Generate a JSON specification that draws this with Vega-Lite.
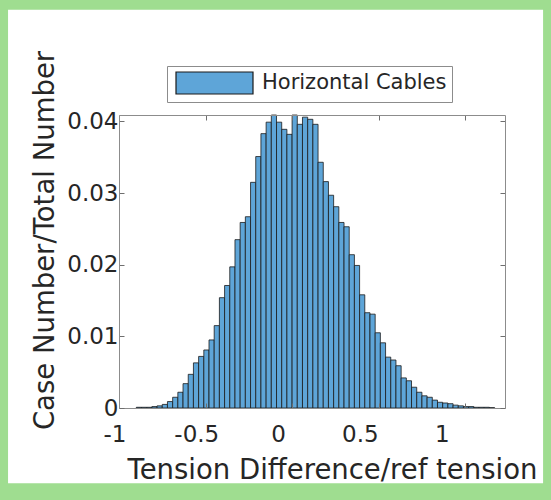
{
  "$schema": "https://vega.github.io/schema/vega-lite/v6.json",
  "width": 386,
  "height": 293,
  "autosize": {"type": "none"},
  "padding": {"left": 119, "top": 115, "right": 46, "bottom": 92},
  "background": "#9fdd90",
  "config": {
    "view": {"stroke": null},
    "font": "DejaVu Sans",
    "axis": {
      "grid": false,
      "domainColor": "#8c8c8c",
      "domainWidth": 1,
      "tickColor": "#6e6e6e",
      "tickSize": -5,
      "labelFlush": false,
      "labelFont": "DejaVu Sans",
      "labelFontSize": 23,
      "labelColor": "#262626",
      "titleFont": "DejaVu Sans",
      "titleFontSize": 27.5,
      "titleFontWeight": "normal",
      "titleColor": "#262626"
    }
  },
  "resolve": {"axis": {"x": "independent", "y": "independent"}},
  "layer": [
    {
      "data": {"values": [{"panel": "background"}]},
      "mark": {"type": "rect", "fill": "white", "clip": false},
      "encoding": {
        "x": {"datum": -1.641, "type": "quantitative", "scale": {"domain": [-1, 1.23], "nice": false, "zero": false},
              "axis": {"orient": "top", "labels": false, "title": null, "zindex": 2, "values": [-1, -0.5, 0, 0.5, 1]}},
        "x2": {"datum": 1.45},
        "y": {"datum": 0.0556, "type": "quantitative", "scale": {"domain": [0, 0.0409], "nice": false, "zero": false},
              "axis": {"orient": "right", "labels": false, "title": null, "zindex": 2, "values": [0, 0.01, 0.02, 0.03, 0.04]}},
        "y2": {"datum": -0.0105}
      }
    },
    {
      "data": {"values": [
        {"x0": -0.90, "x1": -0.87, "p": 0.0001, "series": "Horizontal Cables"},
        {"x0": -0.87, "x1": -0.84, "p": 0.0001, "series": "Horizontal Cables"},
        {"x0": -0.84, "x1": -0.81, "p": 0.0001, "series": "Horizontal Cables"},
        {"x0": -0.81, "x1": -0.78, "p": 0.0002, "series": "Horizontal Cables"},
        {"x0": -0.78, "x1": -0.75, "p": 0.0003, "series": "Horizontal Cables"},
        {"x0": -0.75, "x1": -0.72, "p": 0.0005, "series": "Horizontal Cables"},
        {"x0": -0.72, "x1": -0.69, "p": 0.0009, "series": "Horizontal Cables"},
        {"x0": -0.69, "x1": -0.66, "p": 0.0015, "series": "Horizontal Cables"},
        {"x0": -0.66, "x1": -0.63, "p": 0.0022, "series": "Horizontal Cables"},
        {"x0": -0.63, "x1": -0.60, "p": 0.0034, "series": "Horizontal Cables"},
        {"x0": -0.60, "x1": -0.57, "p": 0.0047, "series": "Horizontal Cables"},
        {"x0": -0.57, "x1": -0.54, "p": 0.0063, "series": "Horizontal Cables"},
        {"x0": -0.54, "x1": -0.51, "p": 0.0072, "series": "Horizontal Cables"},
        {"x0": -0.51, "x1": -0.48, "p": 0.0081, "series": "Horizontal Cables"},
        {"x0": -0.48, "x1": -0.45, "p": 0.0095, "series": "Horizontal Cables"},
        {"x0": -0.45, "x1": -0.42, "p": 0.0115, "series": "Horizontal Cables"},
        {"x0": -0.42, "x1": -0.39, "p": 0.0154, "series": "Horizontal Cables"},
        {"x0": -0.39, "x1": -0.36, "p": 0.0171, "series": "Horizontal Cables"},
        {"x0": -0.36, "x1": -0.33, "p": 0.0197, "series": "Horizontal Cables"},
        {"x0": -0.33, "x1": -0.30, "p": 0.0235, "series": "Horizontal Cables"},
        {"x0": -0.30, "x1": -0.27, "p": 0.0259, "series": "Horizontal Cables"},
        {"x0": -0.27, "x1": -0.24, "p": 0.0267, "series": "Horizontal Cables"},
        {"x0": -0.24, "x1": -0.21, "p": 0.0315, "series": "Horizontal Cables"},
        {"x0": -0.21, "x1": -0.18, "p": 0.0351, "series": "Horizontal Cables"},
        {"x0": -0.18, "x1": -0.15, "p": 0.0383, "series": "Horizontal Cables"},
        {"x0": -0.15, "x1": -0.12, "p": 0.0399, "series": "Horizontal Cables"},
        {"x0": -0.12, "x1": -0.09, "p": 0.0409, "series": "Horizontal Cables"},
        {"x0": -0.09, "x1": -0.06, "p": 0.0399, "series": "Horizontal Cables"},
        {"x0": -0.06, "x1": -0.03, "p": 0.0389, "series": "Horizontal Cables"},
        {"x0": -0.03, "x1": 0.00, "p": 0.0382, "series": "Horizontal Cables"},
        {"x0": 0.00, "x1": 0.03, "p": 0.0409, "series": "Horizontal Cables"},
        {"x0": 0.03, "x1": 0.06, "p": 0.0396, "series": "Horizontal Cables"},
        {"x0": 0.06, "x1": 0.09, "p": 0.0406, "series": "Horizontal Cables"},
        {"x0": 0.09, "x1": 0.12, "p": 0.0403, "series": "Horizontal Cables"},
        {"x0": 0.12, "x1": 0.15, "p": 0.0396, "series": "Horizontal Cables"},
        {"x0": 0.15, "x1": 0.18, "p": 0.0343, "series": "Horizontal Cables"},
        {"x0": 0.18, "x1": 0.21, "p": 0.0316, "series": "Horizontal Cables"},
        {"x0": 0.21, "x1": 0.24, "p": 0.0297, "series": "Horizontal Cables"},
        {"x0": 0.24, "x1": 0.27, "p": 0.0281, "series": "Horizontal Cables"},
        {"x0": 0.27, "x1": 0.30, "p": 0.0259, "series": "Horizontal Cables"},
        {"x0": 0.30, "x1": 0.33, "p": 0.0253, "series": "Horizontal Cables"},
        {"x0": 0.33, "x1": 0.36, "p": 0.0214, "series": "Horizontal Cables"},
        {"x0": 0.36, "x1": 0.39, "p": 0.0199, "series": "Horizontal Cables"},
        {"x0": 0.39, "x1": 0.42, "p": 0.0158, "series": "Horizontal Cables"},
        {"x0": 0.42, "x1": 0.45, "p": 0.0133, "series": "Horizontal Cables"},
        {"x0": 0.45, "x1": 0.48, "p": 0.0131, "series": "Horizontal Cables"},
        {"x0": 0.48, "x1": 0.51, "p": 0.0105, "series": "Horizontal Cables"},
        {"x0": 0.51, "x1": 0.54, "p": 0.0091, "series": "Horizontal Cables"},
        {"x0": 0.54, "x1": 0.57, "p": 0.0071, "series": "Horizontal Cables"},
        {"x0": 0.57, "x1": 0.60, "p": 0.0067, "series": "Horizontal Cables"},
        {"x0": 0.60, "x1": 0.63, "p": 0.0059, "series": "Horizontal Cables"},
        {"x0": 0.63, "x1": 0.66, "p": 0.0042, "series": "Horizontal Cables"},
        {"x0": 0.66, "x1": 0.69, "p": 0.0038, "series": "Horizontal Cables"},
        {"x0": 0.69, "x1": 0.72, "p": 0.0029, "series": "Horizontal Cables"},
        {"x0": 0.72, "x1": 0.75, "p": 0.0022, "series": "Horizontal Cables"},
        {"x0": 0.75, "x1": 0.78, "p": 0.0017, "series": "Horizontal Cables"},
        {"x0": 0.78, "x1": 0.81, "p": 0.0015, "series": "Horizontal Cables"},
        {"x0": 0.81, "x1": 0.84, "p": 0.0011, "series": "Horizontal Cables"},
        {"x0": 0.84, "x1": 0.87, "p": 0.0008, "series": "Horizontal Cables"},
        {"x0": 0.87, "x1": 0.90, "p": 0.0007, "series": "Horizontal Cables"},
        {"x0": 0.90, "x1": 0.93, "p": 0.0006, "series": "Horizontal Cables"},
        {"x0": 0.93, "x1": 0.96, "p": 0.0004, "series": "Horizontal Cables"},
        {"x0": 0.96, "x1": 0.99, "p": 0.0003, "series": "Horizontal Cables"},
        {"x0": 0.99, "x1": 1.02, "p": 0.0002, "series": "Horizontal Cables"},
        {"x0": 1.02, "x1": 1.05, "p": 0.0002, "series": "Horizontal Cables"},
        {"x0": 1.05, "x1": 1.08, "p": 0.0001, "series": "Horizontal Cables"},
        {"x0": 1.08, "x1": 1.11, "p": 0.0001, "series": "Horizontal Cables"},
        {"x0": 1.11, "x1": 1.14, "p": 0.0001, "series": "Horizontal Cables"},
        {"x0": 1.14, "x1": 1.17, "p": 0.00005, "series": "Horizontal Cables"}
      ]},
      "mark": {"type": "rect", "stroke": "#1a1a1a", "strokeWidth": 0.8},
      "encoding": {
        "x": {"field": "x0", "type": "quantitative", "scale": {"domain": [-1, 1.23], "nice": false, "zero": false},
              "axis": {"orient": "bottom", "zindex": 2, "values": [-1, -0.5, 0, 0.5, 1], "title": "Tension Difference/ref tension",
                       "labelExpr": "datum.value < 0 ? '-' + format(-datum.value, '~g') : format(datum.value, '~g')",
                       "labelOffset": {"expr": "-14 - 9.5 * datum.value"},
                       "labelPadding": 20, "titleX": 213, "titleY": 70, "titleBaseline": "alphabetic", "titleAlign": "center"}},
        "x2": {"field": "x1"},
        "y": {"field": "p", "type": "quantitative", "scale": {"domain": [0, 0.0409], "nice": false, "zero": false},
              "axis": {"orient": "left", "zindex": 2, "values": [0, 0.01, 0.02, 0.03, 0.04], "format": "~g", "title": "Case Number/Total Number",
                       "labelPadding": 6, "titleX": -66, "titleY": 125, "titleBaseline": "alphabetic", "titleAlign": "center", "titleAngle": -90}},
        "y2": {"datum": 0},
        "color": {"field": "series", "type": "nominal",
                  "scale": {"domain": ["Horizontal Cables"], "range": ["#5ea5d8"]},
                  "legend": {"orient": "none", "legendX": 48, "legendY": -49, "title": null,
                             "symbolType": "M-3.5,-1H3.5V1H-3.5Z", "symbolSize": 484, "symbolOffset": 30.5,
                             "symbolStrokeColor": "#1a1a1a", "symbolStrokeWidth": 1.2, "symbolOpacity": 1,
                             "labelFont": "DejaVu Sans", "labelFontSize": 21, "labelColor": "#262626", "labelOffset": 35.5, "labelLimit": 400,
                             "padding": 5, "fillColor": "white", "strokeColor": "#8c8c8c"}}
      }
    }
  ]
}
